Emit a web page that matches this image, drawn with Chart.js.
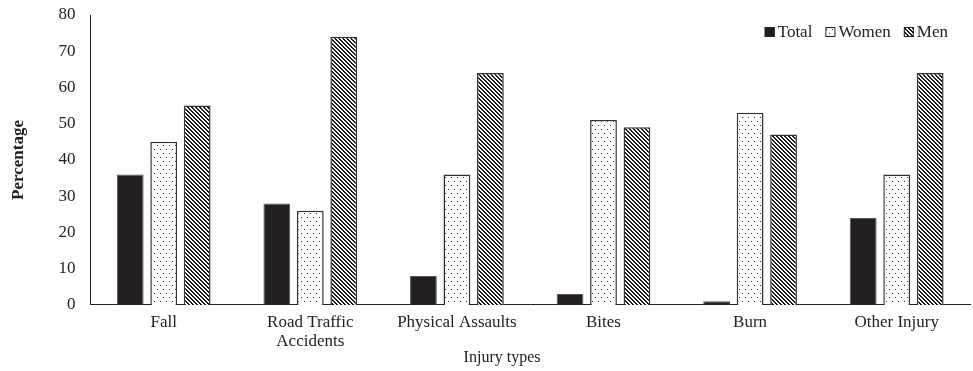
<!DOCTYPE html>
<html>
<head>
<meta charset="utf-8">
<script src="https://cdn.jsdelivr.net/npm/chart.js"></script>
<style>
  html, body { margin: 0; padding: 0; background: #fff; }
  #wrap { width: 973px; height: 371px; }
</style>
</head>
<body>
<div id="wrap"><canvas id="injuryChart"></canvas></div>
<script>
  const injuryTypes = ["Fall", ["Road Traffic", "Accidents"], "Physical Assaults", "Bites", "Burn", "Other Injury"];
  const totalPct = [36, 28, 8, 3, 1, 24];
  const womenPct = [45, 26, 36, 51, 53, 36];
  const menPct = [55, 74, 64, 49, 47, 64];
  const yTicks = [0, 10, 20, 30, 40, 50, 60, 70, 80];
  const xTitle = "Injury types";

  const serif = "'Liberation Serif', 'Times New Roman', serif";

  // small tiles used as fills
  function dotPattern() {
    const c = document.createElement("canvas");
    c.width = 6; c.height = 8;
    const g = c.getContext("2d");
    g.fillStyle = "#fff";
    g.fillRect(0, 0, 6, 8);
    g.fillStyle = "#333";
    g.fillRect(1, 1, 1, 1);
    g.fillRect(4, 5, 1, 1);
    return g.createPattern(c, "repeat");
  }

  function stripePattern() {
    const c = document.createElement("canvas");
    c.width = 4; c.height = 4;
    const g = c.getContext("2d");
    g.fillStyle = "#fff";
    g.fillRect(0, 0, 4, 4);
    g.fillStyle = "#1a1a1a";
    for (let y = 0; y < 4; y++) {
      for (let x = 0; x < 4; x++) {
        const d = ((x - y) % 4 + 4) % 4;
        if (d === 0 || d === 1) g.fillRect(x, y, 1, 1);
      }
    }
    return g.createPattern(c, "repeat");
  }

  // legend drawn inside the plot, top right, in one row,
  // plus the x-axis caption sitting a little left of centre
  const insideLegend = {
    id: "insideLegend",
    afterDraw(chart) {
      const g = chart.ctx;
      const area = chart.chartArea;
      const box = 10, gapText = 3, gapItem = 13;
      g.save();
      g.font = "17px " + serif;
      g.textBaseline = "middle";
      const items = chart.data.datasets.map((ds) => ({
        ds,
        w: box + gapText + g.measureText(ds.label).width,
      }));
      const full = items.reduce((s, it) => s + it.w, 0) + gapItem * (items.length - 1);
      let x = area.right - 22 - full;
      const cy = 32;
      items.forEach((it) => {
        g.fillStyle = it.ds.backgroundColor;
        g.fillRect(x, cy - box / 2, box, box);
        g.strokeStyle = "#222";
        g.lineWidth = 1;
        g.strokeRect(x + 0.5, cy - box / 2 + 0.5, box - 1, box - 1);
        g.fillStyle = "#222";
        g.fillText(it.ds.label, x + box + gapText, cy + 1);
        x += it.w + gapItem;
      });

      g.font = "16px " + serif;
      g.textAlign = "center";
      g.fillText(xTitle, area.left + (area.right - area.left) * 0.468, chart.height - 13);
      g.restore();
    },
  };

  const ctx = document.getElementById("injuryChart");
  new Chart(ctx, {
    type: "bar",
    data: {
      labels: injuryTypes,
      datasets: [
        {
          label: "Total",
          data: totalPct,
          backgroundColor: "#231f20",
          borderColor: "#555",
          borderWidth: 1,
        },
        {
          label: "Women",
          data: womenPct,
          backgroundColor: dotPattern(),
          borderColor: "#333",
          borderWidth: 1.5,
        },
        {
          label: "Men",
          data: menPct,
          backgroundColor: stripePattern(),
          borderColor: "#333",
          borderWidth: 1.5,
        },
      ],
    },
    plugins: [insideLegend],
    options: {
      responsive: true,
      maintainAspectRatio: false,
      animation: false,
      categoryPercentage: 0.685,
      barPercentage: 0.8,
      layout: { padding: { top: 15, right: 3, left: 8, bottom: 12 } },
      plugins: {
        tooltip: { enabled: false },
        legend: { display: false },
      },
      scales: {
        x: {
          grid: { display: false, drawTicks: false },
          border: { color: "#222", width: 1 },
          ticks: {
            color: "#222",
            padding: 8,
            maxRotation: 0,
            autoSkip: false,
            font: { family: serif, size: 17, lineHeight: 1.12 },
          },
        },
        y: {
          min: 0,
          max: 80,
          afterBuildTicks: (axis) => {
            axis.ticks = yTicks.map((v) => ({ value: v }));
          },
          afterFit: (axis) => {
            axis.paddingTop = 0;
          },
          grid: { display: false, drawTicks: false },
          border: { color: "#222", width: 1 },
          ticks: {
            color: "#222",
            padding: 15,
            font: { family: serif, size: 17 },
          },
          title: {
            display: true,
            text: "Percentage",
            color: "#222",
            padding: { top: 0, bottom: 15 },
            font: { family: serif, size: 17, weight: "bold" },
          },
        },
      },
    },
  });
</script>
</body>
</html>
